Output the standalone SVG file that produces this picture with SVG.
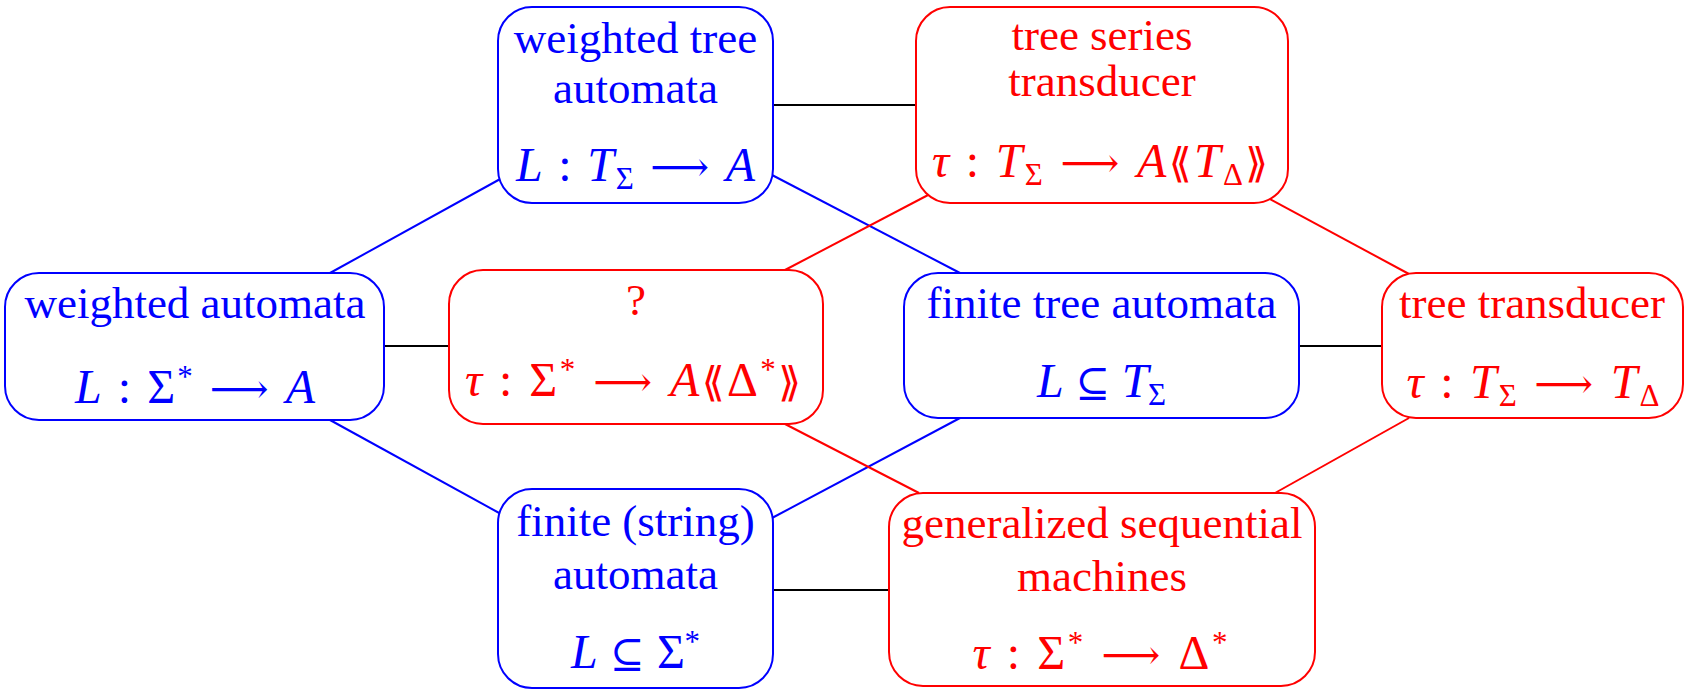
<svg xmlns="http://www.w3.org/2000/svg" width="1686" height="693" viewBox="0 0 1686 693">
<style>
text{font-family:"Liberation Serif","DejaVu Serif",serif;font-size:45px;text-anchor:middle}
text.m{font-size:48px}
.b text{fill:#0000ff}
.r text{fill:#ff0000}
.b rect{fill:#fff;stroke:#0000ff;stroke-width:2}
.r rect{fill:#fff;stroke:#ff0000;stroke-width:2}
.i{font-style:italic}
.s{font-size:31px}
.sym{font-family:"DejaVu Serif","DejaVu Sans",serif;font-size:41px}
.cb{stroke:#0000ff;stroke-width:2;fill:none}
.cr{stroke:#ff0000;stroke-width:2;fill:none}
.ck{stroke:#000;stroke-width:2;fill:none}
</style>
<rect width="1686" height="693" fill="#fff"/>
<g id="connectors">
<line class="ck" x1="773" y1="105" x2="916" y2="105"/>
<line class="ck" x1="384" y1="346" x2="449" y2="346"/>
<line class="ck" x1="1299" y1="346" x2="1382" y2="346"/>
<line class="ck" x1="773" y1="590" x2="889" y2="590"/>
<line class="cb" x1="330" y1="273" x2="502" y2="178"/>
<line class="cb" x1="772" y1="175" x2="960" y2="273"/>
<line class="cb" x1="330" y1="420" x2="501" y2="514"/>
<line class="cb" x1="772" y1="518" x2="960" y2="418"/>
<line class="cr" x1="785" y1="270" x2="930" y2="194"/>
<line class="cr" x1="1268" y1="198" x2="1409" y2="274"/>
<line class="cr" x1="785" y1="424" x2="919" y2="493"/>
<line class="cr" x1="1409" y1="418" x2="1275" y2="493"/>
</g>
<g id="wta" class="b">
<rect x="498" y="7" width="275" height="196" rx="34"/>
<text x="635.5" y="53">weighted tree</text>
<text x="635.5" y="103">automata</text>
<text class="m" x="635.5" y="181" textLength="239" lengthAdjust="spacing"><tspan class="i">L</tspan> : <tspan class="i">T</tspan><tspan class="s" dy="8">Σ</tspan><tspan class="sym" dy="-8"> ⟶ </tspan><tspan class="i">A</tspan></text>
</g>
<g id="tst" class="r">
<rect x="916" y="7" width="372" height="196" rx="34"/>
<text x="1102" y="50">tree series</text>
<text x="1102" y="96">transducer</text>
<text class="m" x="1100" y="177" textLength="336" lengthAdjust="spacing"><tspan class="i">τ</tspan> : <tspan class="i">T</tspan><tspan class="s" dy="8">Σ</tspan><tspan class="sym" dy="-8"> ⟶ </tspan><tspan class="i">A</tspan><tspan class="sym">⟪</tspan><tspan class="i">T</tspan><tspan class="s" dy="8">Δ</tspan><tspan class="sym" dy="-8">⟫</tspan></text>
</g>
<g id="wa" class="b">
<rect x="5" y="273" width="379" height="147" rx="34"/>
<text x="195" y="318">weighted automata</text>
<text class="m" x="195" y="403" textLength="240" lengthAdjust="spacing"><tspan class="i">L</tspan> : Σ<tspan class="s" dy="-16">*</tspan><tspan class="sym" dy="16"> ⟶ </tspan><tspan class="i">A</tspan></text>
</g>
<g id="q" class="r">
<rect x="449" y="270" width="374" height="154" rx="34"/>
<text x="636" y="315">?</text>
<text class="m" x="633" y="396" textLength="336" lengthAdjust="spacing"><tspan class="i">τ</tspan> : Σ<tspan class="s" dy="-16">*</tspan><tspan class="sym" dy="16"> ⟶ </tspan><tspan class="i">A</tspan><tspan class="sym">⟪</tspan>Δ<tspan class="s" dy="-16">*</tspan><tspan class="sym" dy="16">⟫</tspan></text>
</g>
<g id="fta" class="b">
<rect x="904" y="273" width="395" height="145" rx="34"/>
<text x="1101.5" y="318">finite tree automata</text>
<text class="m" x="1101.5" y="397" textLength="129" lengthAdjust="spacing"><tspan class="i">L</tspan><tspan class="sym"> ⊆ </tspan><tspan class="i">T</tspan><tspan class="s" dy="8">Σ</tspan></text>
</g>
<g id="tt" class="r">
<rect x="1382" y="273" width="301" height="145" rx="34"/>
<text x="1532" y="318">tree transducer</text>
<text class="m" x="1533" y="398" textLength="253" lengthAdjust="spacing"><tspan class="i">τ</tspan> : <tspan class="i">T</tspan><tspan class="s" dy="8">Σ</tspan><tspan class="sym" dy="-8"> ⟶ </tspan><tspan class="i">T</tspan><tspan class="s" dy="8">Δ</tspan></text>
</g>
<g id="fsa" class="b">
<rect x="498" y="489" width="275" height="199" rx="34"/>
<text x="635.5" y="536">finite (string)</text>
<text x="635.5" y="589">automata</text>
<text class="m" x="635.5" y="668" textLength="129" lengthAdjust="spacing"><tspan class="i">L</tspan><tspan class="sym"> ⊆ </tspan>Σ<tspan class="s" dy="-16">*</tspan></text>
</g>
<g id="gsm" class="r">
<rect x="889" y="493" width="426" height="193" rx="34"/>
<text x="1102" y="538">generalized sequential</text>
<text x="1102" y="591">machines</text>
<text class="m" x="1100" y="669" textLength="255" lengthAdjust="spacing"><tspan class="i">τ</tspan> : Σ<tspan class="s" dy="-16">*</tspan><tspan class="sym" dy="16"> ⟶ </tspan>Δ<tspan class="s" dy="-16">*</tspan></text>
</g>
</svg>
